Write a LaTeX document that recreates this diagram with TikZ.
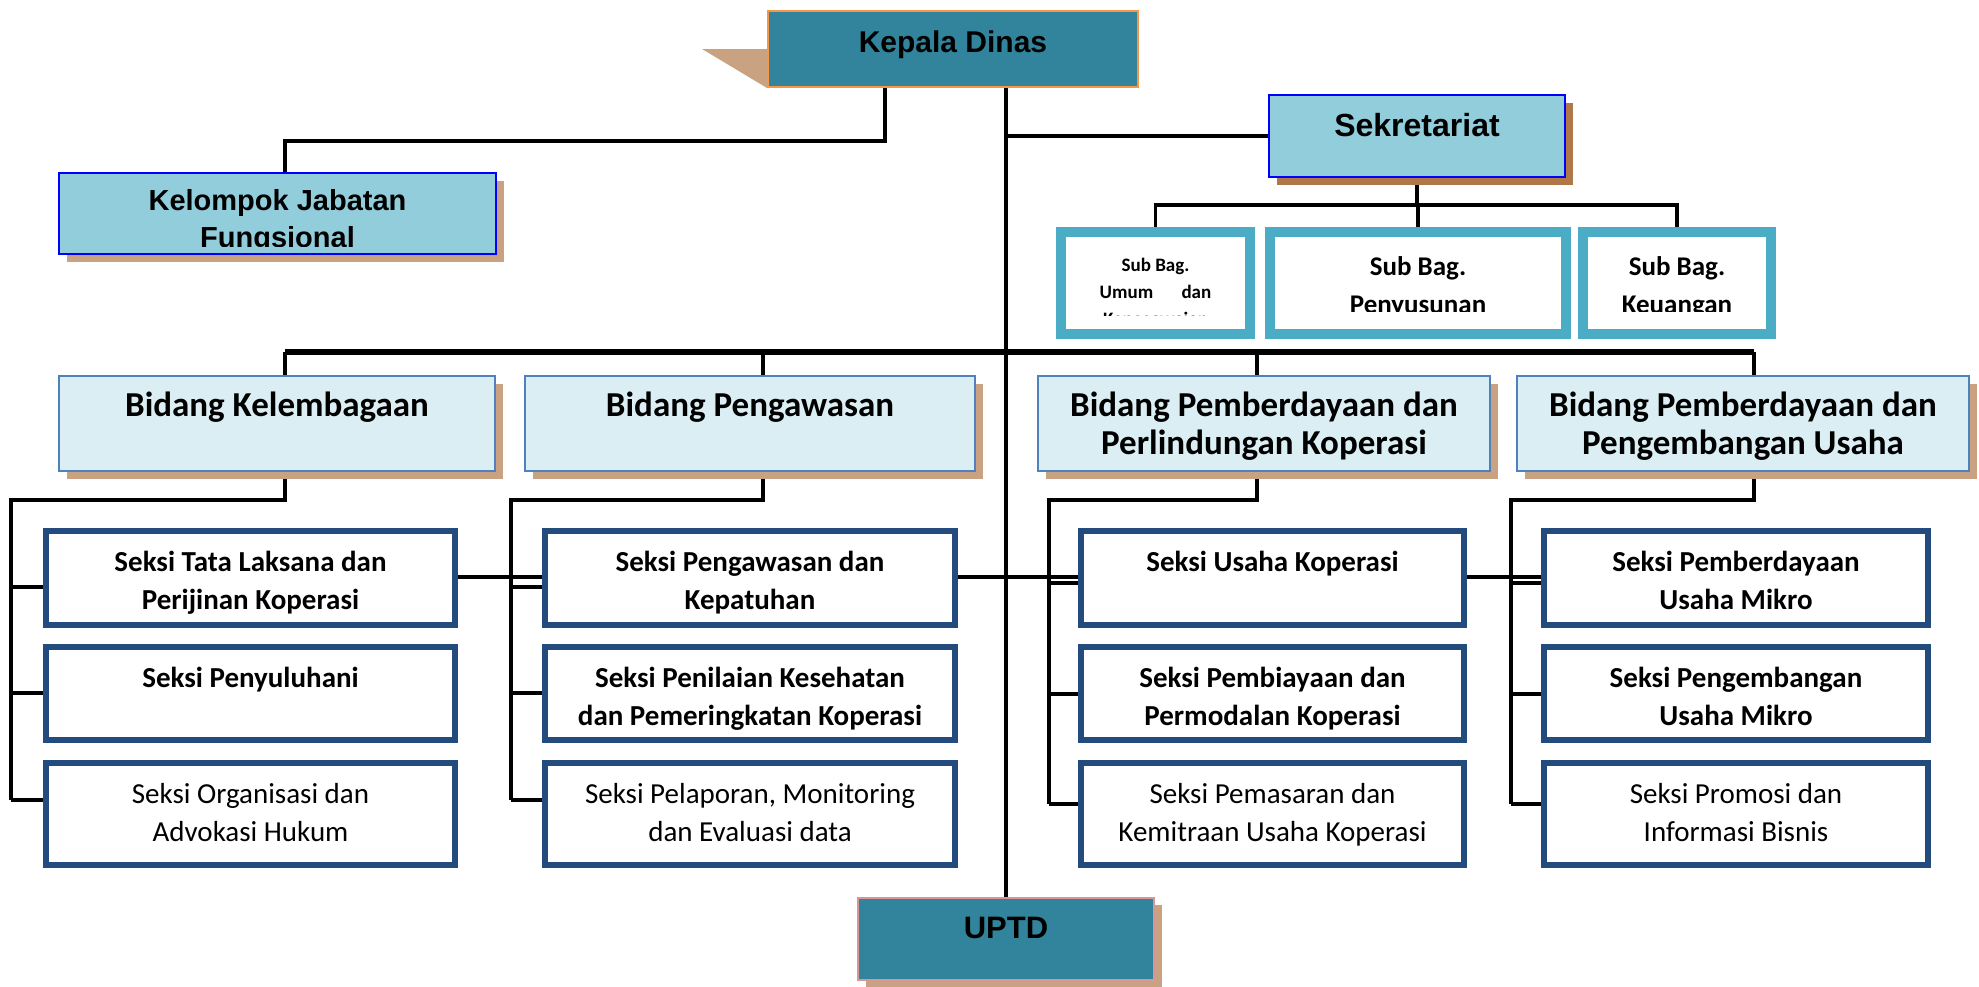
\documentclass[tikz,border=0pt]{standalone}
\usepackage{fontspec}
\setmainfont{Carlito}
\newfontfamily\tahoma{Liberation Sans}
\usetikzlibrary{fit,shadows,backgrounds}
\definecolor{kdfill}{HTML}{31849B}
\definecolor{kdborder}{HTML}{F79646}
\definecolor{uptdborder}{HTML}{D99694}
\definecolor{tanshadow}{HTML}{C9A282}
\definecolor{brownshadow}{HTML}{B07848}
\definecolor{lightblue}{HTML}{92CDDC}
\definecolor{bidfill}{HTML}{DAEEF3}
\definecolor{bidborder}{HTML}{4F81BD}
\definecolor{seksiborder}{HTML}{234B7E}
\definecolor{subteal}{HTML}{4BACC6}
\newcommand\myfs[2]{\fontsize{#1}{#2}\selectfont}
\tikzset{
  conn/.style={line width=3.6pt,black},
  mainbar/.style={line width=6pt,black},
  boxbase/.style={rectangle,inner sep=0pt},
  headbox/.style={boxbase,draw=kdborder,line width=2.5pt,fill=kdfill},
  uptdbox/.style={boxbase,draw=uptdborder,line width=2.5pt,fill=kdfill,
    general shadow={fill=tanshadow,shadow xshift=8pt,shadow yshift=-7pt}},
  sekbox/.style={boxbase,draw=blue,line width=2.5pt,fill=lightblue,
    general shadow={fill=brownshadow,shadow xshift=8pt,shadow yshift=-8pt}},
  kjfbox/.style={boxbase,draw=blue,line width=2.5pt,fill=lightblue,
    general shadow={fill=tanshadow,shadow xshift=8pt,shadow yshift=-8pt}},
  bidbox/.style={boxbase,draw=bidborder,line width=2.5pt,fill=bidfill,
    general shadow={fill=tanshadow,shadow xshift=8pt,shadow yshift=-8pt}},
  seksibox/.style={boxbase,draw=seksiborder,line width=5.5pt,fill=white},
  subbox/.style={boxbase,draw=subteal,line width=10pt,fill=white},
  subinner/.style={draw=subteal,line width=2pt},
  lbl/.style={inner sep=0pt,align=center,anchor=north},
  headtxt/.style={lbl,font=\tahoma\bfseries\myfs{30}{36}},
  bidtxt/.style={lbl,font=\bfseries\myfs{35}{38}},
  skbold/.style={lbl,font=\bfseries\myfs{29}{38}},
  skreg/.style={lbl,font=\myfs{29}{38}},
}
\begin{document}
\begin{tikzpicture}[x=1pt,y=-1pt]
\useasboundingbox (0,0) rectangle (1979,986);

% ---------- top level ----------
\fill[tanshadow] (702,49) -- (767,49) -- (767,88) -- cycle;
\node[headbox,fit={(768,11) (1138,87)}] (kd) {};
\node[headtxt] (tkd) at (953,31) {Kepala Dinas};

\node[sekbox,fit={(1269,95) (1565,177)}] (sek) {};
\node[headtxt,font=\tahoma\bfseries\myfs{32}{36}] (tsek) at (1417,113) {Sekretariat};

\node[kjfbox,fit={(59,173) (496,254)}] (kjf) {};
\begin{scope}
  \clip (60,174) rectangle (495,246);
  \node[lbl,font=\tahoma\bfseries\myfs{29}{37}] (tkjf) at (277.5,189) {Kelompok Jabatan\\Fungsional};
\end{scope}

% ---------- sub bagian ----------
\node[subbox,fit={(1061,232) (1250,334)}] (sb1) {};
\node[subbox,fit={(1270,232) (1566,334)}] (sb2) {};
\node[subbox,fit={(1583,232) (1771,334)}] (sb3) {};
\draw[subinner] ([shift={(9,9)}]sb1.north west) rectangle ([shift={(-9,-9)}]sb1.south east);
\draw[subinner] ([shift={(9,9)}]sb2.north west) rectangle ([shift={(-9,-9)}]sb2.south east);
\draw[subinner] ([shift={(9,9)}]sb3.north west) rectangle ([shift={(-9,-9)}]sb3.south east);
\begin{scope}
  \clip (1072,243) rectangle (1239,315);
  \node[lbl,font=\bfseries\myfs{19}{27}] (tsb1) at (1155.5,258) {Sub Bag.\\Umum\hspace{24pt} dan\\Kepegawaian};
\end{scope}
\begin{scope}
  \clip (1281,243) rectangle (1555,311);
  \node[lbl,font=\bfseries\myfs{27}{38}] (tsb2) at (1418,256.5) {Sub Bag.\\Penyusunan\\Program};
\end{scope}
\begin{scope}
  \clip (1594,243) rectangle (1760,311);
  \node[lbl,font=\bfseries\myfs{27}{38}] (tsb3) at (1677,256.5) {Sub Bag.\\Keuangan};
\end{scope}

% ---------- bidang ----------
\node[bidbox,fit={(59,376) (495,471)}] (b1) {};
\node[bidbox,fit={(525,376) (975,471)}] (b2) {};
\node[bidbox,fit={(1038,376) (1490,471)}] (b3) {};
\node[bidbox,fit={(1517,376) (1969,471)}] (b4) {};
\node[bidtxt] (tb1) at (277,392) {Bidang Kelembagaan};
\node[bidtxt] (tb2) at (750,392) {Bidang Pengawasan};
\node[bidtxt] (tb3) at (1264,392) {Bidang Pemberdayaan dan\\Perlindungan Koperasi};
\node[bidtxt] (tb4) at (1743,392) {Bidang Pemberdayaan dan\\Pengembangan Usaha};

% ---------- seksi ----------
\node[seksibox,fit={(46,531) (455,625)}] (s11) {};
\node[seksibox,fit={(46,647) (455,740)}] (s12) {};
\node[seksibox,fit={(46,763) (455,865)}] (s13) {};
\node[seksibox,fit={(545,531) (955,625)}] (s21) {};
\node[seksibox,fit={(545,647) (955,740)}] (s22) {};
\node[seksibox,fit={(545,763) (955,865)}] (s23) {};
\node[seksibox,fit={(1081,531) (1464,625)}] (s31) {};
\node[seksibox,fit={(1081,647) (1464,740)}] (s32) {};
\node[seksibox,fit={(1081,763) (1464,865)}] (s33) {};
\node[seksibox,fit={(1544,531) (1928,625)}] (s41) {};
\node[seksibox,fit={(1544,647) (1928,740)}] (s42) {};
\node[seksibox,fit={(1544,763) (1928,865)}] (s43) {};

\node[skbold] (t11) at (250.5,551) {Seksi Tata Laksana dan\\Perijinan Koperasi};
\node[skbold] (t12) at (250.5,667) {Seksi Penyuluhani};
\node[skreg]  (t13) at (250.5,783) {Seksi Organisasi dan\\Advokasi Hukum};
\node[skbold] (t21) at (750,551) {Seksi Pengawasan dan\\Kepatuhan};
\node[skbold] (t22) at (750,667) {Seksi Penilaian Kesehatan\\dan Pemeringkatan Koperasi};
\node[skreg]  (t23) at (750,783) {Seksi Pelaporan, Monitoring\\dan Evaluasi data};
\node[skbold] (t31) at (1272.5,551) {Seksi Usaha Koperasi};
\node[skbold] (t32) at (1272.5,667) {Seksi Pembiayaan dan\\Permodalan Koperasi};
\node[skreg]  (t33) at (1272.5,783) {Seksi Pemasaran dan\\Kemitraan Usaha Koperasi};
\node[skbold] (t41) at (1736,551) {Seksi Pemberdayaan\\Usaha Mikro};
\node[skbold] (t42) at (1736,667) {Seksi Pengembangan\\Usaha Mikro};
\node[skreg]  (t43) at (1736,783) {Seksi Promosi dan\\Informasi Bisnis};

% ---------- UPTD ----------
\node[uptdbox,fit={(858,898) (1154,980)}] (uptd) {};
\node[headtxt,font=\tahoma\bfseries\myfs{31}{36}] (tuptd) at (1006,917) {UPTD};

% ---------- connectors ----------
\begin{pgfonlayer}{background}
  \coordinate (tx) at (1006,500);
  \draw[conn] (kd.south -| tx) -- (uptd.north -| tx);
  % kelompok
  \coordinate (kx) at (885,141);
  \coordinate (kjx) at (285,141);
  \draw[conn] (kd.south -| kx) -- (kx) -- (kjx) -- (kjf.north -| kjx);
  % sekretariat
  \draw[conn] (sek.west -| tx) -- (sek.west);
  \coordinate (sbar) at (1417,205);
  \draw[conn] (sek.south) -- (sek.south |- sbar);
  \draw[conn] (sb1.north) -- (sb1.north |- sbar) -- (sb3.north |- sbar) -- (sb3.north);
  \draw[conn] (sb2.north |- sbar) -- (sb2.north);
  % bidang bar
  \coordinate (d1) at (285,352);
  \coordinate (d2) at (763,352);
  \coordinate (d3) at (1257,352);
  \coordinate (d4) at (1754,352);
  \draw[mainbar] (d1) -- (d4);
  \draw[conn] (d1) -- (b1.north -| d1);
  \draw[conn] (d2) -- (b2.north -| d2);
  \draw[conn] (d3) -- (b3.north -| d3);
  \draw[conn] (d4) -- (b4.north -| d4);
  % columns
  \coordinate (v1) at (11,500);
  \coordinate (v2) at (511,500);
  \coordinate (v3) at (1049,500);
  \coordinate (v4) at (1511,500);
  \draw[conn] (b1.south -| d1) -- (d1 |- v1) -- (v1) -- (11,800);
  \draw[conn] (b2.south -| d2) -- (d2 |- v2) -- (v2) -- (511,800);
  \draw[conn] (b3.south -| d3) -- (d3 |- v3) -- (v3) -- (1049,804);
  \draw[conn] (b4.south -| d4) -- (d4 |- v4) -- (v4) -- (1511,804);
  \draw[conn] (11,587) -- (s11.west |- 0,587);
  \draw[conn] (11,693) -- (s12.west |- 0,693);
  \draw[conn] (11,800) -- (s13.west |- 0,800);
  \draw[conn] (511,587) -- (s21.west |- 0,587);
  \draw[conn] (511,693) -- (s22.west |- 0,693);
  \draw[conn] (511,800) -- (s23.west |- 0,800);
  \draw[conn] (1049,583) -- (s31.west |- 0,583);
  \draw[conn] (1049,694) -- (s32.west |- 0,694);
  \draw[conn] (1049,804) -- (s33.west |- 0,804);
  \draw[conn] (1511,583) -- (s41.west |- 0,583);
  \draw[conn] (1511,694) -- (s42.west |- 0,694);
  \draw[conn] (1511,804) -- (s43.west |- 0,804);
  % cross line
  \coordinate (cy) at (0,577);
  \draw[conn] (s11.east |- cy) -- (s21.west |- cy);
  \draw[conn] (s21.east |- cy) -- (s31.west |- cy);
  \draw[conn] (s31.east |- cy) -- (s41.west |- cy);
\end{pgfonlayer}
\end{tikzpicture}
\end{document}
